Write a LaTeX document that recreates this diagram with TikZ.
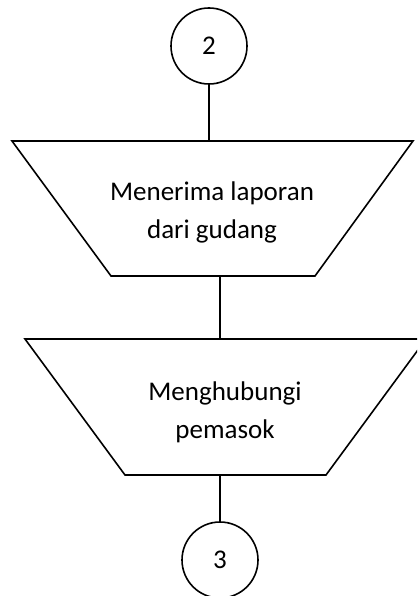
\documentclass[tikz,border=0pt]{standalone}
\usepackage{fontspec}
\setmainfont{Carlito}
\usetikzlibrary{positioning}

\begin{document}
\begin{tikzpicture}[x=1pt,y=-1pt,line width=1.6pt,align=center,
		conn/.style={circle,draw,minimum size=76pt,inner sep=0pt,font=\fontsize{27}{38}\selectfont},
		txt/.style={inner sep=0pt,font=\fontsize{27}{38}\selectfont}]
		\clip (0,0) rectangle (417,596);
		\node[conn] (c_2) at (209,46) {2};
		\node[conn] (c_3) at (220,560) {3};
		% manual operations
		\draw (12,141) coordinate (t_1) -- (413,141) -- (315,276) -- (111,276) coordinate (b_1) -- cycle;
		\draw (25,339) coordinate (t_2) -- (426,339) -- (326,475) -- (125,475) coordinate (b_2) -- cycle;
		\node[txt] (m_1) at (212,212) {Menerima laporan\\dari gudang};
		\node[txt] (m_2) at (225,412) {Menghubungi\\pemasok};
		\draw (c_2.south) -- (c_2.south |- t_1);
		\draw (c_3.north |- b_1) -- (c_3.north |- t_2);
		\draw (c_3.north |- b_2) -- (c_3.north);
	\end{tikzpicture}
\end{document}
